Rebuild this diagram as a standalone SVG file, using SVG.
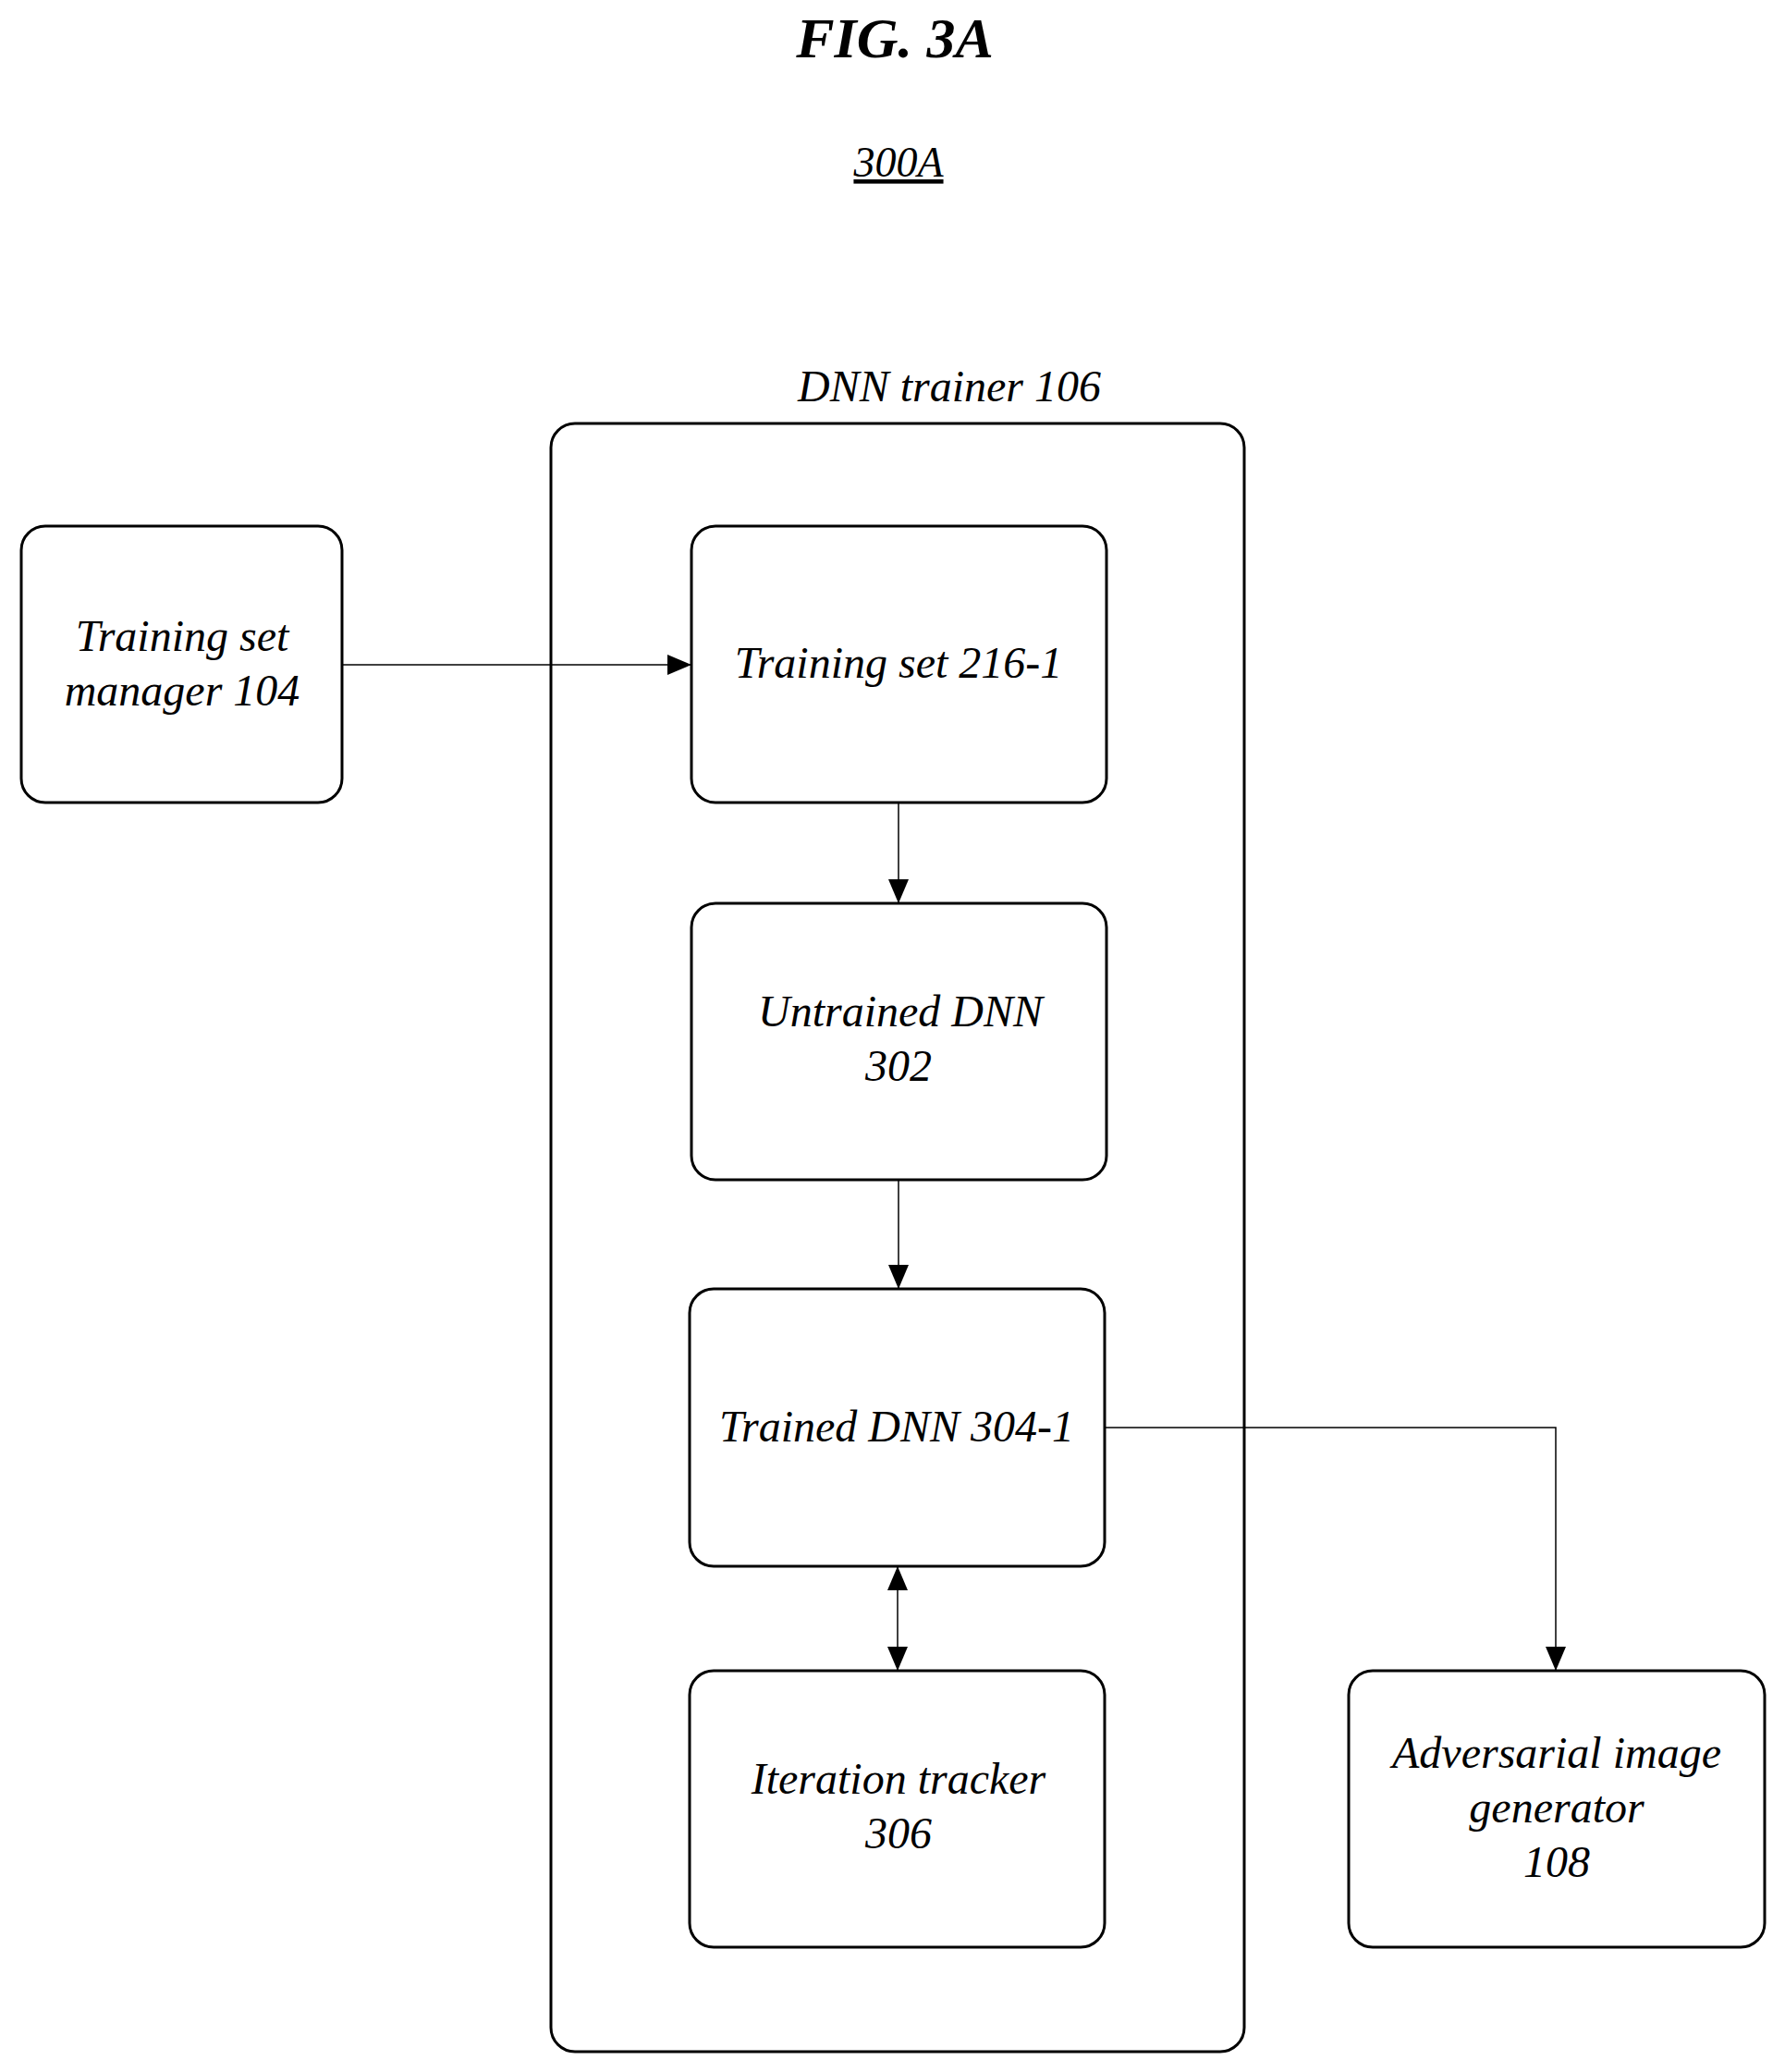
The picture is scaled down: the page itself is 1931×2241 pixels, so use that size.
<svg xmlns="http://www.w3.org/2000/svg" width="1931" height="2241" viewBox="0 0 1931 2241">
<style>
text{font-family:"Liberation Serif",serif;font-style:italic;fill:#000;text-anchor:middle}
.b{fill:#fff;stroke:#000;stroke-width:3}
.l{font-size:48px}
.c{fill:none;stroke:#000;stroke-width:1.5}
</style>
<defs>
<marker id="a" viewBox="0 0 26 22" refX="26" refY="11" markerWidth="26" markerHeight="22" markerUnits="userSpaceOnUse" orient="auto-start-reverse"><path d="M0,0L26,11L0,22z" fill="#000"/></marker>
</defs>
<rect width="1931" height="2241" fill="#fff"/>
<text x="968" y="62" font-size="62" font-weight="bold">FIG. 3A</text>
<text x="972" y="191" font-size="46" text-decoration="underline">300A</text>
<g id="trainer"><rect class="b" x="596" y="458" width="750" height="1761" rx="26"/><text class="l" x="1027" y="434">DNN trainer 106</text></g>
<g id="manager"><rect class="b" x="23" y="569" width="347" height="299" rx="26"/><text class="l" x="197" y="704">Training set</text><text class="l" x="197" y="763">manager 104</text></g>
<g id="set"><rect class="b" x="748" y="569" width="449" height="299" rx="26"/><text class="l" x="972" y="733">Training set 216-1</text></g>
<g id="untrained"><rect class="b" x="748" y="977" width="449" height="299" rx="26"/><text class="l" x="974" y="1110">Untrained DNN</text><text class="l" x="972" y="1169">302</text></g>
<g id="trained"><rect class="b" x="746" y="1394" width="449" height="300" rx="26"/><text class="l" x="970" y="1559">Trained DNN 304-1</text></g>
<g id="tracker"><rect class="b" x="746" y="1807" width="449" height="299" rx="26"/><text class="l" x="972" y="1940">Iteration tracker</text><text class="l" x="972" y="1999">306</text></g>
<g id="adv"><rect class="b" x="1459" y="1807" width="450" height="299" rx="26"/><text class="l" x="1684" y="1912">Adversarial image</text><text class="l" x="1684" y="1971">generator</text><text class="l" x="1684" y="2030">108</text></g>
<g id="connectors">
<path class="c" d="M370,719H748" marker-end="url(#a)"/>
<path class="c" d="M972,868V977" marker-end="url(#a)"/>
<path class="c" d="M972,1276V1394" marker-end="url(#a)"/>
<path class="c" d="M1195,1544H1683V1807" marker-end="url(#a)"/>
<path class="c" d="M971,1694V1807" marker-start="url(#a)" marker-end="url(#a)"/>
</g>
</svg>
